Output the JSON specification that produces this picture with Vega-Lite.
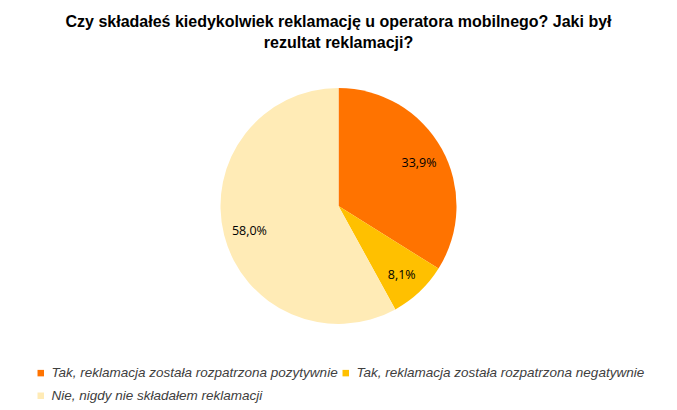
{
  "$schema": "https://vega.github.io/schema/vega-lite/v6.json",
  "autosize": {"type": "none"},
  "width": 677,
  "height": 288,
  "padding": {"left": 0, "right": 0, "top": 62, "bottom": 60},
  "background": "#ffffff",
  "title": {
    "text": ["Czy składałeś kiedykolwiek reklamację u operatora mobilnego? Jaki był", "rezultat reklamacji?"],
    "anchor": "middle",
    "font": "Liberation Sans",
    "fontSize": 16,
    "fontWeight": "bold",
    "color": "#000000",
    "lineHeight": 21,
    "offset": 11
  },
  "data": {
    "values": [
      {"kategoria": "Tak, reklamacja została rozpatrzona pozytywnie", "procent": 33.9, "etykieta": "33,9%", "kolejnosc": 1},
      {"kategoria": "Tak, reklamacja została rozpatrzona negatywnie", "procent": 8.1, "etykieta": "8,1%", "kolejnosc": 2},
      {"kategoria": "Nie, nigdy nie składałem reklamacji", "procent": 58.0, "etykieta": "58,0%", "kolejnosc": 3}
    ]
  },
  "encoding": {
    "theta": {"field": "procent", "type": "quantitative", "stack": true},
    "order": {"field": "kolejnosc", "type": "quantitative"}
  },
  "layer": [
    {
      "mark": {"type": "arc", "outerRadius": 118},
      "encoding": {
        "color": {
          "field": "kategoria",
          "type": "nominal",
          "scale": {
            "domain": ["Tak, reklamacja została rozpatrzona pozytywnie", "Tak, reklamacja została rozpatrzona negatywnie", "Nie, nigdy nie składałem reklamacji"],
            "range": ["#FF7300", "#FFC000", "#FFEBB6"]
          },
          "legend": {
            "title": null,
            "orient": "none",
            "legendX": 34,
            "legendY": 304,
            "direction": "horizontal",
            "columns": 2,
            "symbolType": "square",
            "symbolSize": 42,
            "symbolStrokeWidth": 0,
            "labelFont": "Liberation Sans",
            "labelFontStyle": "italic",
            "labelFontSize": 13.5,
            "labelColor": "#404040",
            "labelLimit": 400,
            "labelOffset": 4,
            "columnPadding": 1,
            "rowPadding": 8
          }
        }
      }
    },
    {
      "mark": {"type": "text", "radius": 92, "font": "Open Sans", "fontSize": 12.5, "color": "#000000", "dy": 2},
      "encoding": {
        "text": {"field": "etykieta", "type": "nominal"}
      }
    }
  ],
  "config": {"view": {"stroke": null}}
}
